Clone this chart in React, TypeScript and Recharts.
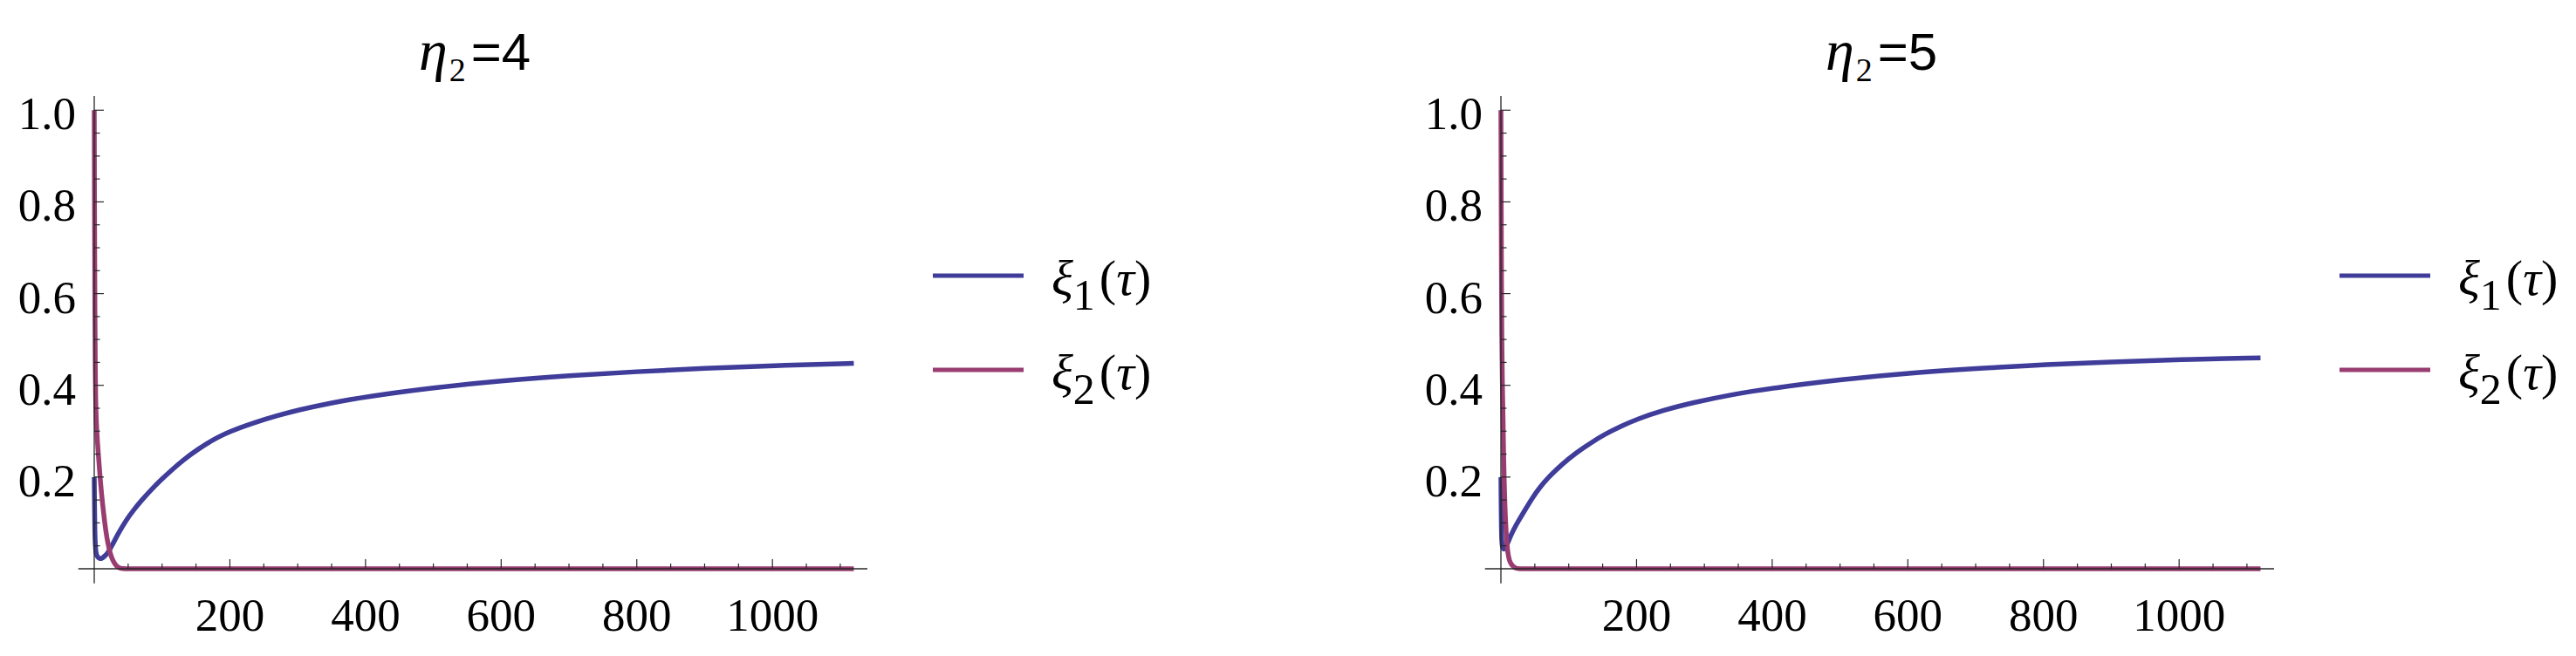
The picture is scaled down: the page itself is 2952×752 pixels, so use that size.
import React from 'react';
import { LineChart, Line, XAxis, YAxis, ReferenceLine, Legend } from 'recharts';

const SERIF = '"Liberation Serif", "Times New Roman", serif';
const SANS = '"Liberation Sans", Arial, sans-serif';
const BLUE = '#3f3d99';
const PURPLE = '#993d71';
const AXIS = '#262626';

// eta2 = 4 (left panel)
const TAU_XI1_A = [0, 0.4, 0.8, 1.3, 2, 3, 5, 8, 11, 15, 20, 26, 35, 47, 58, 69, 85, 100, 111, 130, 154, 175, 197, 236, 270, 300, 350, 400, 500, 600, 700, 800, 900, 1000, 1120];
const XI1_A = [0.2, 0.14, 0.09, 0.06, 0.042, 0.031, 0.025, 0.022, 0.022, 0.027, 0.034, 0.05, 0.076, 0.106, 0.128, 0.148, 0.174, 0.196, 0.211, 0.236, 0.262, 0.281, 0.298, 0.319, 0.334, 0.346, 0.362, 0.375, 0.395, 0.41, 0.421, 0.43, 0.437, 0.443, 0.448];
const TAU_XI2_A = [0, 0.5, 1, 1.5, 2, 3, 4.5, 6, 8.4, 10.8, 14, 17.2, 20.4, 23.6, 27, 31, 34.5, 38, 45, 60, 1120];
const XI2_A = [1, 0.72, 0.55, 0.44, 0.37, 0.32, 0.282, 0.25, 0.204, 0.162, 0.119, 0.08, 0.053, 0.033, 0.019, 0.009, 0.004, 0.001, 0, 0, 0];

// eta2 = 5 (right panel)
const TAU_XI1_B = [0, 0.3, 0.7, 1.2, 2, 3.5, 5, 7, 10, 15, 20, 25.7, 35, 47, 57, 69, 90, 111, 133, 154, 176, 200, 240, 282, 340, 400, 504, 600, 726, 800, 900, 1000, 1120];
const XI1_B = [0.2, 0.14, 0.09, 0.06, 0.048, 0.043, 0.043, 0.047, 0.056, 0.074, 0.089, 0.104, 0.127, 0.156, 0.177, 0.198, 0.228, 0.253, 0.275, 0.294, 0.31, 0.326, 0.346, 0.362, 0.38, 0.394, 0.413, 0.427, 0.439, 0.445, 0.451, 0.456, 0.46];
const TAU_XI2_B = [0, 0.4, 0.8, 1.3, 2, 3.2, 3.9, 4.7, 5.6, 6.9, 9, 11, 12.9, 15, 18, 22, 26, 40, 1120];
const XI2_B = [1, 0.8, 0.62, 0.5, 0.41, 0.328, 0.25, 0.2, 0.15, 0.1, 0.049, 0.027, 0.017, 0.01, 0.005, 0.001, 0, 0, 0];

const X_TICKS = [50, 100, 150, 200, 250, 300, 350, 400, 450, 500, 550, 600, 650, 700, 750, 800, 850, 900, 950, 1000, 1050, 1100];
const X_LABELS = [200, 400, 600, 800, 1000];
const Y_TICKS = [0.05, 0.1, 0.15, 0.2, 0.25, 0.3, 0.35, 0.4, 0.45, 0.5, 0.55, 0.6, 0.65, 0.7, 0.75, 0.8, 0.85, 0.9, 0.95, 1];
const Y_LABELS = [0.2, 0.4, 0.6, 0.8, 1];
const SERIES_SUBS = ['1', '2'];

const X_DOMAIN = [0, 1140];
const Y_DOMAIN = [0, 1.031];

const zip = (xs: number[], ys: number[]) => xs.map((x, i) => ({ x, y: ys[i] }));

const PANELS = [
  { eta: '4', left: 0, width: 1612, xi1: zip(TAU_XI1_A, XI1_A), xi2: zip(TAU_XI2_A, XI2_A) },
  { eta: '5', left: 1612, width: 1340, xi1: zip(TAU_XI1_B, XI1_B), xi2: zip(TAU_XI2_B, XI2_B) },
];

function XTick(props: any) {
  const { x, y, payload } = props;
  const major = X_LABELS.includes(payload.value);
  return (
    <g>
      <line x1={x} x2={x} y1={y} y2={y - (major ? 11 : 6)} stroke={AXIS} strokeWidth={1.2} />
      {major && (
        <text x={x} y={y + 71} textAnchor="middle" style={{ fontFamily: SERIF }} fontSize={53} fill="#000">
          {payload.value}
        </text>
      )}
    </g>
  );
}

function YTick(props: any) {
  const { x, y, payload } = props;
  const major = Y_LABELS.some((v) => Math.abs(v - payload.value) < 1e-9);
  return (
    <g>
      <line x1={x} x2={x + (major ? 11 : 6.5)} y1={y} y2={y} stroke={AXIS} strokeWidth={1.2} />
      {major && (
        <text x={x - 21} y={y + 22} textAnchor="end" style={{ fontFamily: SERIF }} fontSize={53} fill="#000">
          {payload.value.toFixed(1)}
        </text>
      )}
    </g>
  );
}

function renderLegend(props: any) {
  const { payload = [] } = props;
  return (
    <svg width={300} height={175} style={{ display: 'block', overflow: 'visible' }}>
      {payload.map((entry: any, i: number) => {
        const cy = 36 + i * 108;
        return (
          <g key={i}>
            <line x1={9} x2={113} y1={cy} y2={cy} stroke={entry.color} strokeWidth={5} />
            <text x={145} y={cy + 22} style={{ fontFamily: SERIF }} fontSize={58} fill="#000">
              <tspan fontStyle="italic">ξ</tspan>
              <tspan fontSize={50} dy={17}>{SERIES_SUBS[i]}</tspan>
              <tspan dy={-17} dx={5}>(</tspan>
              <tspan fontStyle="italic">τ</tspan>
              <tspan>)</tspan>
            </text>
          </g>
        );
      })}
    </svg>
  );
}

function Panel({ eta, left, width, xi1, xi2 }: any) {
  return (
    <div style={{ position: 'absolute', left, top: 0, width, height: 752 }}>
      <LineChart width={width} height={752} margin={{ top: 110, right: width - 108 - 886, bottom: 99, left: 107 }}>
        <XAxis
          type="number"
          dataKey="x"
          domain={X_DOMAIN}
          ticks={X_TICKS}
          interval={0}
          height={1}
          tickSize={0}
          tickMargin={0}
          axisLine={false}
          tickLine={false}
          tick={XTick}
        />
        <YAxis
          type="number"
          dataKey="y"
          domain={Y_DOMAIN}
          ticks={Y_TICKS}
          interval={0}
          width={1}
          tickSize={0}
          tickMargin={0}
          axisLine={false}
          tickLine={false}
          tick={YTick}
        />
        <Line data={xi1} dataKey="y" name="xi1" type="basis" stroke={BLUE} strokeWidth={5.5} dot={false} isAnimationActive={false} />
        <Line data={xi2} dataKey="y" name="xi2" type="basis" stroke={PURPLE} strokeWidth={5.5} dot={false} isAnimationActive={false} />
        <ReferenceLine segment={[{ x: -23.5, y: 0 }, { x: 1140, y: 0 }]} stroke={AXIS} strokeWidth={1.3} ifOverflow="visible" />
        <ReferenceLine segment={[{ x: 0, y: -0.032 }, { x: 0, y: 1.031 }]} stroke={AXIS} strokeWidth={1.3} ifOverflow="visible" />
        <Legend
          layout="vertical"
          align="center"
          verticalAlign="middle"
          content={renderLegend}
          wrapperStyle={{ left: 1060, top: 280, width: 300, height: 175 }}
        />
      </LineChart>
      <svg width={width} height={120} style={{ position: 'absolute', left: 0, top: 0, pointerEvents: 'none' }}>
        <text x={544} y={80} textAnchor="middle" fill="#000" fontSize={60}>
          <tspan style={{ fontFamily: SERIF }} fontStyle="italic" fontSize={66}>η</tspan>
          <tspan style={{ fontFamily: SERIF }} fontSize={38} dy={13} dx={2}>2</tspan>
          <tspan style={{ fontFamily: SANS }} dy={-13} dx={6}>=</tspan>
          <tspan style={{ fontFamily: SANS }}>{eta}</tspan>
        </text>
      </svg>
    </div>
  );
}

export default function App() {
  return (
    <div style={{ position: 'absolute', left: 0, top: 0, width: 2952, height: 752, background: '#fff' }}>
      {PANELS.map((p) => (
        <Panel key={p.eta} {...p} />
      ))}
    </div>
  );
}
